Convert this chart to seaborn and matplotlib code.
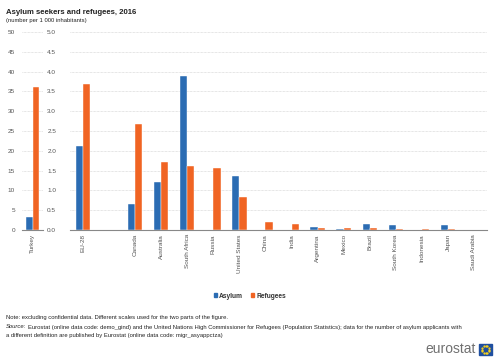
import numpy as np
import pandas as pd
import seaborn as sns
import matplotlib
matplotlib.use("Agg")
import matplotlib.pyplot as plt
from matplotlib.patches import Rectangle, Patch

# data (number per 1 000 inhabitants)
left_countries = ["Turkey"]
left_asylum = [3.2]
left_refugees = [36.1]

countries = ["EU-28", " ", "Canada", "Australia", "South Africa", "Russia",
             "United States", "China", "India", "Argentina", "Mexico", "Brazil",
             "South Korea", "Indonesia", "Japan", "Saudi Arabia"]
asylum = [2.12, np.nan, 0.65, 1.20, 3.89, 0.01, 1.36, 0.0, 0.0, 0.08, 0.02,
          0.15, 0.12, 0.01, 0.13, 0.0]
refugees = [3.69, np.nan, 2.67, 1.72, 1.62, 1.57, 0.83, 0.21, 0.15, 0.06, 0.04,
            0.04, 0.03, 0.03, 0.02, 0.0]

BLUE = "#2b6cb3"
ORANGE = "#f06423"
GREY = "#555555"

def long_df(names, a, r):
    rows = []
    for n, x, y in zip(names, a, r):
        if not np.isnan(x):
            rows.append({"country": n, "series": "Asylum", "value": x})
        if not np.isnan(y):
            rows.append({"country": n, "series": "Refugees", "value": y})
    return pd.DataFrame(rows)

df_left = long_df(left_countries, left_asylum, left_refugees)
df_right = long_df(countries, asylum, refugees)

sns.set_style("white")
plt.rcParams["font.family"] = ["Liberation Sans", "DejaVu Sans"]

fig = plt.figure(figsize=(5, 3.62), dpi=100)
W, H = 500, 362

def px_axes(x0, y0, x1, y1):
    return fig.add_axes([x0 / W, 1 - y1 / H, (x1 - x0) / W, (y1 - y0) / H])

ax1 = px_axes(22, 32, 43, 230)
ax2 = px_axes(70, 32, 487, 230)

pal = {"Asylum": BLUE, "Refugees": ORANGE}

sns.barplot(data=df_left, x="country", y="value", hue="series", order=left_countries,
            hue_order=["Asylum", "Refugees"], palette=pal, width=0.58, ax=ax1,
            edgecolor="#ffffff", linewidth=0.3, saturation=1, legend=False)
sns.barplot(data=df_right, x="country", y="value", hue="series", order=countries,
            hue_order=["Asylum", "Refugees"], palette=pal, width=0.55, ax=ax2,
            edgecolor="#ffffff", linewidth=0.3, saturation=1, legend=False)

for ax, top, step, fmt in [(ax1, 50, 5, "{:.0f}"), (ax2, 5.0, 0.5, "{:.1f}")]:
    ticks = np.arange(0, top + step / 2, step)
    ax.set_ylim(0, top)
    ax.set_yticks(ticks)
    ax.set_yticklabels([fmt.format(t) for t in ticks], fontsize=4.6, color=GREY)
    ax.set_xlabel("")
    ax.set_ylabel("")
    for s in ["top", "right", "left"]:
        ax.spines[s].set_visible(False)
    ax.spines["bottom"].set_color("#888888")
    ax.spines["bottom"].set_linewidth(0.8)
    ax.grid(axis="y", color="#cccccc", linestyle=(0, (1, 1)), linewidth=0.5)
    ax.set_axisbelow(True)
    ax.tick_params(axis="y", length=0, pad=10)
    n = len(ax.get_xticks())
    ax.set_xlim(-0.5, n - 0.5)
    ax.set_xticks(np.arange(-0.5, n, 1.0), minor=True)
    ax.tick_params(axis="x", which="minor", length=3, color="#888888", width=0.6)
    ax.tick_params(axis="x", which="major", length=0, labelsize=4.6, labelcolor=GREY,
                   labelrotation=90, pad=3)

ax1.tick_params(axis="y", pad=5)

# title and notes
fig.text(6 / W, 1 - 12 / H, "Asylum seekers and refugees, 2016", fontsize=5.6,
         fontweight="bold", va="center", color="#222222")
fig.text(6 / W, 1 - 20.5 / H, "(number per 1 000 inhabitants)", fontsize=4.2,
         va="center", color="#222222")

handles = [Patch(color=BLUE, label="Asylum"), Patch(color=ORANGE, label="Refugees")]
leg = fig.legend(handles=handles, loc="center", bbox_to_anchor=(0.5, 1 - 296 / H),
                 ncol=2, frameon=False, fontsize=4.8, handlelength=0.5, handleheight=0.5,
                 handletextpad=0.3, columnspacing=1.2)
for t in leg.get_texts():
    t.set_fontweight("bold")
    t.set_color("#333333")

fs = 4.25
fig.text(6 / W, 1 - 318 / H, "Note: excluding confidential data. Different scales used "
         "for the two parts of the figure.", fontsize=fs, va="center", color="#222222")
src = fig.text(6 / W, 1 - 327 / H, "Source:", fontsize=fs, style="italic", va="center",
               color="#222222")
fig.canvas.draw()
src_end = src.get_window_extent().x1 + 2
fig.text(src_end / W, 1 - 327 / H, "Eurostat (online data code: demo_gind) and the United "
         "Nations High Commissioner for Refugees (Population Statistics); data for the "
         "number of asylum applicants with", fontsize=fs, va="center", color="#222222")
fig.text(6 / W, 1 - 335 / H, "a different definition are published by Eurostat (online "
         "data code: migr_asyappctza)", fontsize=fs, va="center", color="#222222")

# eurostat logo
fig.text(476 / W, 1 - 349 / H, "eurostat", fontsize=10, color="#707070",
         ha="right", va="center")
fig.patches.append(Rectangle((479 / W, 1 - 355 / H), 13 / W, 11 / H,
                             transform=fig.transFigure, color="#1f4fa0"))
ang = np.linspace(0, 2 * np.pi, 12, endpoint=False)
fig.lines.append(plt.Line2D((485.5 + 3.6 * np.cos(ang)) / W,
                            1 - (349.5 + 3.6 * np.sin(ang)) / H,
                            transform=fig.transFigure, linestyle="none",
                            marker="o", markersize=0.6, color="#ffd617"))

fig.savefig("out.png", dpi=100)
